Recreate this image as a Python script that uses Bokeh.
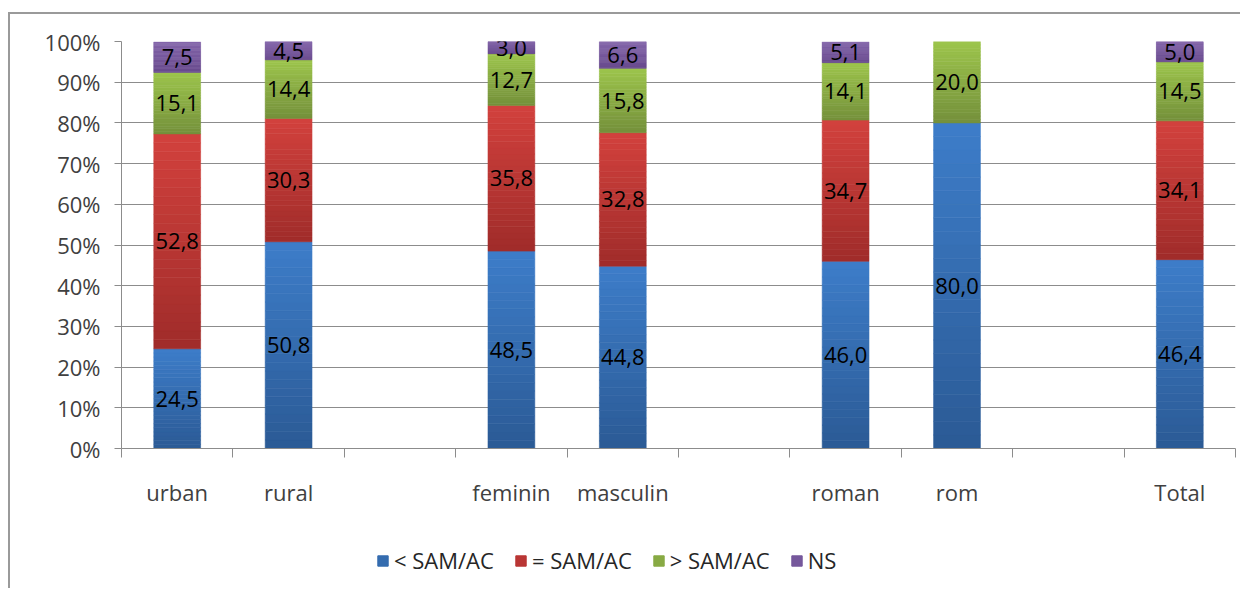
from bokeh.plotting import figure
from bokeh.layouts import column
from bokeh.models import ColumnDataSource, FixedTicker, Range1d, Legend, LegendItem, LabelSet, PrintfTickFormatter
from bokeh.core.properties import value
from bokeh.embed import file_html
from bokeh.resources import INLINE

# ---- data ----
categories = ["urban", "rural", "", "feminin", "masculin", "", "roman", "rom", "", "Total"]
series_names = ["< SAM/AC", "= SAM/AC", "> SAM/AC", "NS"]
below_sam = [24.5, 50.8, 0, 48.5, 44.8, 0, 46.0, 80.0, 0, 46.4]
equal_sam = [52.8, 30.3, 0, 35.8, 32.8, 0, 34.7, 0.0, 0, 34.1]
above_sam = [15.1, 14.4, 0, 12.7, 15.8, 0, 14.1, 20.0, 0, 14.5]
ns_values = [7.5, 4.5, 0, 3.0, 6.6, 0, 5.1, 0.0, 0, 5.0]
y_ticks = [0, 10, 20, 30, 40, 50, 60, 70, 80, 90, 100]

series = [below_sam, equal_sam, above_sam, ns_values]
# (top colour, bottom colour) per series: vertical gradient
grad = [("#3D7DC9", "#2B5A95"), ("#D2413D", "#A02C2A"), ("#9DC54C", "#74903B"), ("#8466AA", "#684A8E")]
FONT = "Open Sans"
FS = "22px"

def hex2rgb(h):
    return tuple(int(h[i:i + 2], 16) for i in (1, 3, 5))

def mix(c_bot, c_top, t):
    a, b = hex2rgb(c_bot), hex2rgb(c_top)
    return "#%02x%02x%02x" % tuple(round(a[j] + (b[j] - a[j]) * t) for j in range(3))

W = 1230
p = figure(width=W, height=514, output_backend="svg", toolbar_location=None,
           x_range=Range1d(0, len(categories)), y_range=Range1d(0, 100),
           min_border_left=111, min_border_right=W - 111 - 1114, min_border_top=27, min_border_bottom=80)
p.outline_line_color = None
p.xgrid.grid_line_color = None
p.ygrid.grid_line_color = "#8C8C8C"
p.ygrid.grid_line_width = 1
p.ygrid.ticker = FixedTicker(ticks=y_ticks)

N = 24
bar_w = 0.42
base = [0.0] * len(categories)
for s, vals in enumerate(series):
    xs, bots, tops, cols = [], [], [], []
    for i, v in enumerate(vals):
        if v <= 0:
            continue
        for k in range(N):
            xs.append(i + 0.5)
            bots.append(base[i] + v * k / N)
            tops.append(base[i] + v * (k + 1) / N)
            cols.append(mix(grad[s][1], grad[s][0], (k + 0.5) / N))
    src = ColumnDataSource(dict(x=xs, bottom=bots, top=tops, color=cols))
    p.vbar(x="x", bottom="bottom", top="top", width=bar_w, source=src,
           fill_color="color", line_color="color", line_width=0.6)
    base = [base[i] + vals[i] for i in range(len(vals))]

# data labels
lx, ly, lt = [], [], []
cum = [0.0] * len(categories)
for vals in series:
    for i, v in enumerate(vals):
        if v > 0:
            lx.append(i + 0.5)
            ly.append(cum[i] + v / 2)
            lt.append(("%.1f" % v).replace(".", ","))
        cum[i] += v
lab_src = ColumnDataSource(dict(x=lx, y=ly, t=lt))
p.add_layout(LabelSet(x="x", y="y", text="t", source=lab_src, text_align="center",
                      text_baseline="middle", text_font=value(FONT), text_font_size=value(FS),
                      text_color=value("#000000")))

# y axis
ya = p.yaxis[0]
ya.ticker = FixedTicker(ticks=y_ticks)
ya.formatter = PrintfTickFormatter(format="%d%%")
ya.axis_line_color = "#8C8C8C"
ya.major_tick_line_color = "#8C8C8C"
ya.major_tick_out = 7
ya.major_tick_in = 0
ya.minor_tick_line_color = None
ya.major_label_text_font = FONT
ya.major_label_text_font_size = FS
ya.major_label_text_color = "#404040"
ya.major_label_standoff = 14

# x axis: labels at slot centres, tick marks at slot boundaries
xa = p.xaxis[0]
centres = [i + 0.5 for i, c in enumerate(categories) if c]
xa.ticker = FixedTicker(ticks=centres, minor_ticks=list(range(len(categories) + 1)))
xa.major_label_overrides = {i + 0.5: c for i, c in enumerate(categories) if c}
xa.axis_line_color = "#8C8C8C"
xa.major_tick_line_color = None
xa.major_tick_out = 0
xa.major_tick_in = 0
xa.minor_tick_line_color = "#8C8C8C"
xa.minor_tick_out = 9
xa.minor_tick_in = 0
xa.major_label_text_font = FONT
xa.major_label_text_font_size = FS
xa.major_label_text_color = "#404040"
xa.major_label_standoff = 19

# legend in its own strip below the chart
lf = figure(width=W, height=60, output_backend="svg", toolbar_location=None,
            x_range=Range1d(0, 1), y_range=Range1d(0, 1),
            min_border_left=0, min_border_right=0, min_border_top=0, min_border_bottom=0)
lf.axis.visible = False
lf.grid.visible = False
lf.outline_line_color = None
items = []
for s in range(len(series)):
    c = mix(grad[s][1], grad[s][0], 0.5)
    # a single off-screen bar just to carry the legend swatch style
    r = lf.vbar(x=[0.5], bottom=[-3], top=[-2], width=0.1, fill_color=c, line_color=c)
    items.append(LegendItem(label=series_names[s], renderers=[r]))
legend = Legend(items=items, orientation="horizontal", location=(255, 13),
                label_text_font=FONT, label_text_font_size=FS, label_text_color="#262626",
                glyph_width=13, glyph_height=13, label_standoff=5, spacing=20,
                padding=0, margin=0, background_fill_alpha=0, border_line_color=None)
lf.add_layout(legend, "center")

layout = column(p, lf, spacing=0)
layout.styles = {"border-left": "2px solid #9A9A9A", "border-top": "2px solid #9A9A9A",
                 "margin-left": "8px", "margin-top": "12px"}

open("out.html", "w").write(file_html(layout, INLINE))
